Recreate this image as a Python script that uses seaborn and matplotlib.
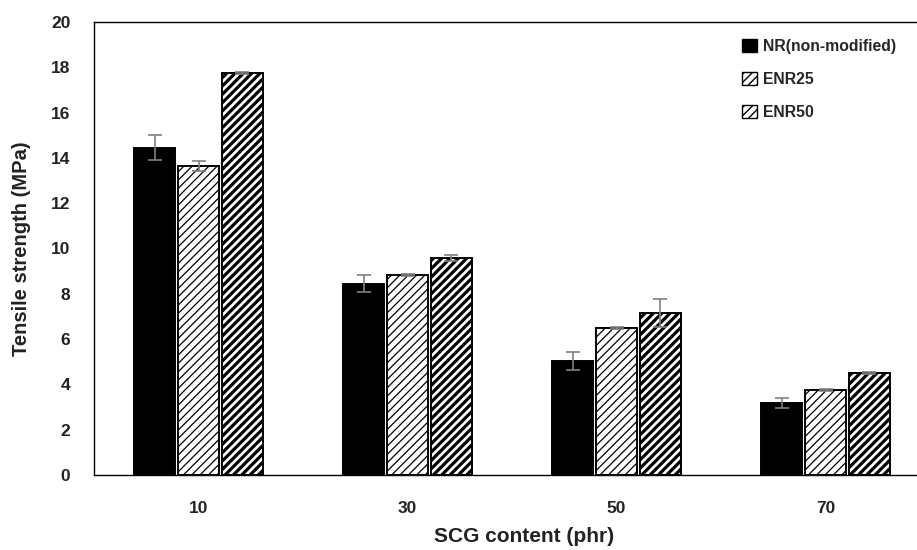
import numpy as np
import pandas as pd
import matplotlib
matplotlib.use('Agg')
import matplotlib.pyplot as plt
from matplotlib.patches import Patch
import seaborn as sns

# data
content = ['10', '30', '50', '70']
nr = [14.45, 8.45, 5.03, 3.18]
nr_err = [0.56, 0.38, 0.38, 0.2]
enr25 = [13.64, 8.83, 6.49, 3.75]
enr25_err = [0.22, 0.05, 0.05, 0.05]
enr50 = [17.75, 9.58, 7.15, 4.5]
enr50_err = [0.05, 0.12, 0.62, 0.05]
series = ['NR(non-modified)', 'ENR25', 'ENR50']

df = pd.DataFrame({
    'content': content * 3,
    'series': np.repeat(series, len(content)),
    'value': nr + enr25 + enr50,
})
errs = [nr_err, enr25_err, enr50_err]

sns.set_style('white')
plt.rcParams['font.family'] = ['Liberation Sans', 'DejaVu Sans']
plt.rcParams['font.weight'] = 'bold'
plt.rcParams['hatch.linewidth'] = 1.0

fig = plt.figure(figsize=(9.17, 5.5), dpi=100)
ax = fig.add_axes([94 / 917, 1 - 475 / 550, (930 - 94) / 917, (475 - 22) / 550])

sns.barplot(data=df, x='content', y='value', hue='series', order=content,
            hue_order=series, width=0.63, gap=0.07, legend=False,
            edgecolor='black', linewidth=1.4, ax=ax)

faces = ['black', 'white', 'white']
hatches = [None, '////', '////']
hatch_lw = [1.0, 0.9, 2.3]
bar_groups = list(ax.containers[:3])
for i, cont in enumerate(bar_groups):
    xs = []
    for bar in cont:
        bar.set_facecolor(faces[i])
        bar.set_edgecolor('black')
        if hatches[i]:
            bar.set_hatch(hatches[i])
            if hasattr(bar, 'set_hatch_linewidth'):
                bar.set_hatch_linewidth(hatch_lw[i])
        xs.append(bar.get_x() + bar.get_width() / 2)
    vals = df[df['series'] == series[i]]['value'].values
    ax.errorbar(xs, vals, yerr=errs[i], fmt='none', ecolor='#808080',
                elinewidth=1.2, capsize=5, capthick=1.2, zorder=5)

ax.set_ylim(0, 20)
ax.set_xlim(-0.5, 3.5)
ax.set_yticks(range(0, 21, 2))
ax.tick_params(axis='both', length=0, labelsize=12.5)
ax.tick_params(axis='y', pad=17)
ax.tick_params(axis='x', pad=19)
for lab in ax.get_xticklabels() + ax.get_yticklabels():
    lab.set_fontweight('bold')
    lab.set_color('#222222')

ax.set_xlabel('SCG content (phr)', fontsize=15, fontweight='bold', labelpad=9, color='#222222')
ax.xaxis.set_label_coords((524 - 94) / 836, -0.115)
ax.set_ylabel('Tensile strength (MPa)', fontsize=14.5, fontweight='bold', labelpad=14, color='#222222')

for s in ['top', 'left', 'bottom', 'right']:
    ax.spines[s].set_visible(True)
    ax.spines[s].set_color('black')
    ax.spines[s].set_linewidth(1.0)

handles = []
for i in range(3):
    p = Patch(facecolor=faces[i], edgecolor='black', hatch=hatches[i], linewidth=1.0)
    if hasattr(p, 'set_hatch_linewidth'):
        p.set_hatch_linewidth(hatch_lw[i])
    handles.append(p)
fig.legend(handles, series, loc='upper left', bbox_to_anchor=(734 / 917, 1 - 31 / 550),
           frameon=False, prop={'size': 11.3, 'weight': 'bold'}, handlelength=0.95,
           handleheight=0.9, handletextpad=0.4, labelspacing=1.15, borderpad=0)

fig.savefig('out.png', dpi=100)
